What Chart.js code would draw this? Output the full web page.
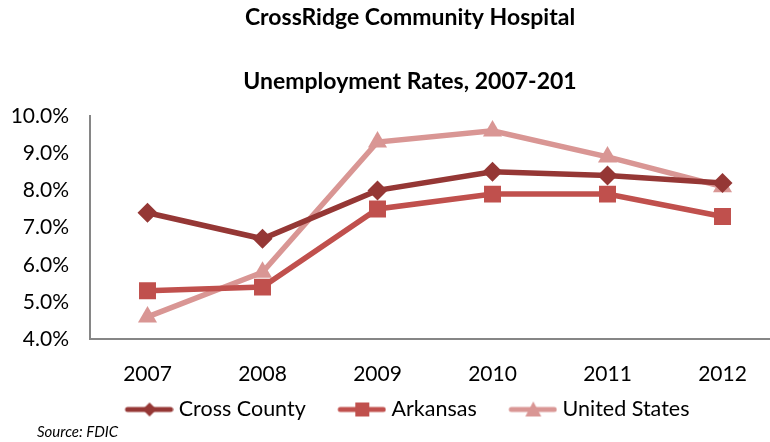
<!DOCTYPE html>
<html>
<head>
<meta charset="utf-8">
<script src="https://cdn.jsdelivr.net/npm/chart.js@4.4.1/dist/chart.umd.min.js"></script>
<style>
  html, body { margin: 0; padding: 0; overflow: hidden; background: #fff; }
</style>
</head>
<body>
<canvas id="chart" width="820" height="442"></canvas>
<script>
const years = ["2007", "2008", "2009", "2010", "2011", "2012"];
const crossCounty = [7.4, 6.7, 8.0, 8.5, 8.4, 8.2];
const arkansas = [5.3, 5.4, 7.5, 7.9, 7.9, 7.3];
const unitedStates = [4.6, 5.8, 9.3, 9.6, 8.9, 8.1];
const yMin = 4, yMax = 10, yStep = 1;
const titleLines = ["CrossRidge Community Hospital", "Unemployment Rates, 2007-201"];
const sourceText = "Source: FDIC";

const FONT = "Lato, 'Open Sans', sans-serif";
const axisGray = "#868686";
const fmtPct = v => v.toFixed(1) + "%";

// widest y label, so the (mirrored, unclipped) labels can be right-aligned
const measure = document.createElement("canvas").getContext("2d");
measure.font = "21px " + FONT;
let widest = 0;
for (let v = yMin; v <= yMax; v += yStep) widest = Math.max(widest, measure.measureText(fmtPct(v)).width);

// line+marker picture for the legend, drawn on the right side of a wider
// transparent canvas so the gaps come out like Excel's
function legendIcon(color, style) {
  const c = document.createElement("canvas");
  c.width = 76; c.height = 20;
  const g = c.getContext("2d");
  g.strokeStyle = color;
  g.fillStyle = color;
  g.lineWidth = 5;
  g.lineCap = "round";
  g.beginPath(); g.moveTo(30, 10); g.lineTo(73, 10); g.stroke();
  g.beginPath();
  const cx = 52;
  if (style === "rectRot") {
    g.moveTo(cx, 3); g.lineTo(cx + 7, 10); g.lineTo(cx, 17); g.lineTo(cx - 7, 10);
  } else if (style === "rect") {
    g.rect(cx - 7, 3, 14, 14);
  } else {
    g.moveTo(cx, 2); g.lineTo(cx + 8, 17); g.lineTo(cx - 8, 17);
  }
  g.closePath(); g.fill();
  return c;
}

const headings = {
  id: "headings",
  afterDraw(chart) {
    const ctx = chart.ctx;
    ctx.save();
    ctx.fillStyle = "#000";
    ctx.textBaseline = "middle";
    ctx.textAlign = "center";
    ctx.font = "bold 23px " + FONT;
    ctx.fillText(titleLines[0], 410, 18);
    ctx.fillText(titleLines[1], 410, 82);
    ctx.textAlign = "left";
    ctx.font = "italic 15px " + FONT;
    ctx.fillText(sourceText, 37, 432);
    ctx.restore();
  }
};

const series = [
  { label: "Cross County", data: crossCounty, color: "#953735", style: "rectRot", r: 10 },
  { label: "Arkansas", data: arkansas, color: "#C0504D", style: "rect", r: 12 },
  { label: "United States", data: unitedStates, color: "#D99694", style: "triangle", r: 11 }
];

new Chart(document.getElementById("chart"), {
  type: "line",
  data: {
    labels: years,
    datasets: series.map(s => ({
      label: s.label,
      data: s.data,
      borderColor: s.color,
      backgroundColor: s.color,
      borderWidth: 5.5,
      pointStyle: s.style,
      pointRadius: s.r,
      pointHoverRadius: s.r,
      pointBorderWidth: 0,
      tension: 0,
      legendIcon: legendIcon(s.color, s.style)
    }))
  },
  options: {
    responsive: false,
    animation: false,
    layout: { padding: { left: 12.5, right: 40, top: 116, bottom: 11.8 } },
    plugins: {
      tooltip: { enabled: false },
      legend: {
        position: "bottom",
        labels: {
          color: "#000",
          font: { family: FONT, size: 21.5 },
          usePointStyle: true,
          pointStyleWidth: 65,
          padding: 10,
          generateLabels(chart) {
            return chart.data.datasets.map((ds, i) => ({
              text: ds.label,
              fontColor: "#000",
              pointStyle: ds.legendIcon,
              lineWidth: 0,
              datasetIndex: i
            }));
          }
        }
      }
    },
    scales: {
      x: {
        offset: true,
        grid: { display: false, drawTicks: false },
        border: { color: axisGray, width: 2 },
        ticks: { color: "#000", font: { family: FONT, size: 21 }, padding: 22 },
        afterFit(scale) { scale.height = 49.5; }
      },
      y: {
        min: yMin,
        max: yMax,
        grid: { display: false, drawTicks: false },
        border: { color: axisGray, width: 2 },
        ticks: {
          stepSize: yStep,
          color: "#000",
          mirror: true,
          crossAlign: "far",
          padding: -21 - widest,
          font: { family: FONT, size: 21 },
          callback: v => fmtPct(v)
        },
        afterFit(scale) { scale.width = 90 - 12.5; }
      }
    }
  },
  plugins: [headings]
});
</script>
</body>
</html>
